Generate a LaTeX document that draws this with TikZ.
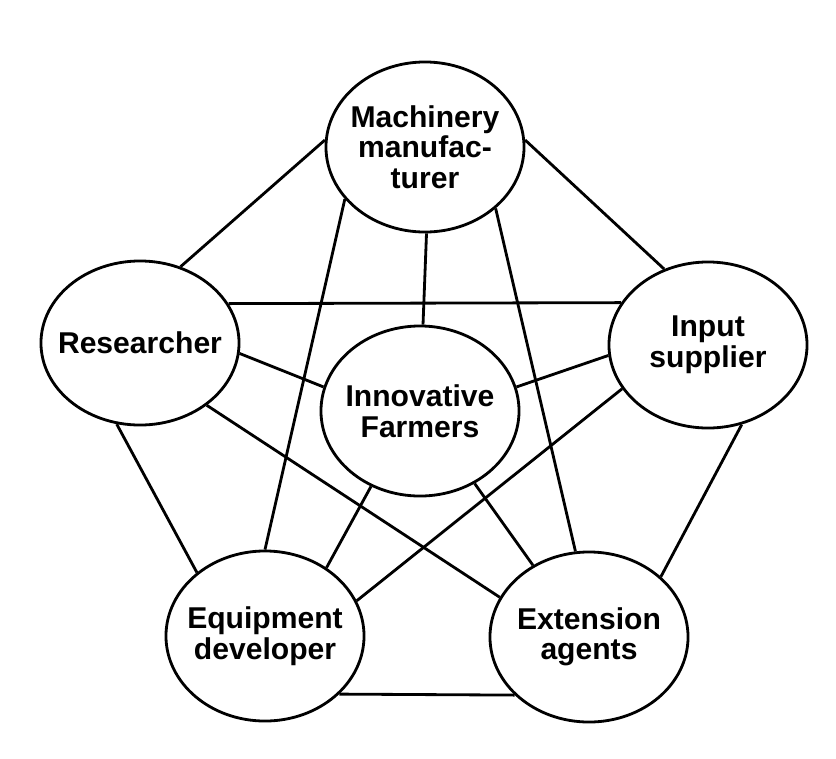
\documentclass[tikz,border=0pt]{standalone}
\usepackage{fontspec}
\setmainfont{Liberation Sans}
\usepackage{tikz}
\tikzstyle{actor} = [ellipse, draw, line width=2pt, fill=white,
    minimum width=4.95cm, minimum height=4.25cm, inner sep=0pt]
\tikzstyle{actortext} = [align=center, inner sep=0pt,
    font=\fontsize{21.4}{21.7}\selectfont\bfseries]
\tikzstyle{link} = [line width=2pt]
\usetikzlibrary{shapes.geometric}

\begin{document}
\begin{tikzpicture}[x=0.025cm,y=-0.025cm]
    \useasboundingbox (0,0) rectangle (836,758);

    \node[actor,label={[actortext]center:Machinery\\manufac-\\turer}] (machinery) at (425,147) {};
    \node[actor,minimum height=4.1cm,label={[actortext]center:Researcher}] (researcher) at (140,343) {};
    \node[actor,minimum height=4.15cm,label={[actortext]center:Input\\supplier}] (input) at (708,345) {};
    \node[actor,label={[actortext]center:Innovative\\Farmers}] (farmers) at (420,411) {};
    \node[actor,label={[actortext]center:Equipment\\developer}] (equipment) at (265,636) {};
    \node[actor,label={[actortext]center:Extension\\agents}] (extension) at (589,637) {};

    % outer ring
    \draw[link] (machinery.176) -- (researcher.62);
    \draw[link] (machinery.4) -- (input.120);
    \draw[link] (researcher.-106) -- (equipment.137);
    \draw[link] (input.-67) -- (extension.40);
    \draw[link] (equipment.-38) -- (extension.-142);

    % star
    \draw[link] (machinery.-147.5) -- (equipment.90);
    \draw[link] (machinery.-41) -- (extension.99);
    \draw[link] (researcher.24) -- (input.154.5);
    \draw[link] (researcher.-43.7) -- (extension.156);
    \draw[link] (input.-153.4) -- (equipment.21);

    % spokes to the farmers
    \draw[link] (machinery.-89) -- (farmers.88);
    \draw[link] (researcher.-6.4) -- (farmers.166);
    \draw[link] (input.-174) -- (farmers.14);
    \draw[link] (farmers.-123) -- (equipment.48.5);
    \draw[link] (farmers.-53.4) -- (extension.128);
\end{tikzpicture}
\end{document}
